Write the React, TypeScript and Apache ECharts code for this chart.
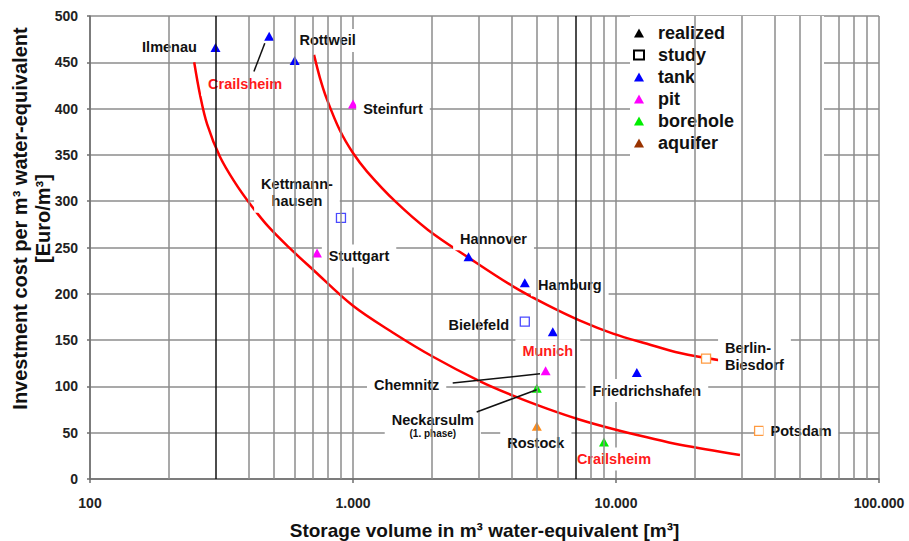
import React, { useEffect, useRef } from 'react';
import * as echarts from 'echarts';

const FONT = '"Liberation Sans", Arial, Helvetica, sans-serif';

// ---- axes ----
const xMin = 100;
const xMax = 100000;
const yMin = 0;
const yMax = 500;
const yInterval = 50;
const minorGridX = [200, 400, 500, 600, 700, 800, 900, 2000, 3000, 4000, 5000, 6000, 8000, 9000,
  20000, 30000, 40000, 50000, 60000, 70000, 80000, 90000];
const darkGridX = [300, 7000];

// ---- realized stores (triangles) ----
const tankNames = ['Ilmenau', 'Crailsheim', 'Rottweil', 'Hannover', 'Hamburg', 'Munich', 'Friedrichshafen'];
const tankVolume = [300, 480, 600, 2750, 4500, 5750, 12000];
const tankCost = [466, 478, 452, 240, 212, 159, 115];

const pitNames = ['Steinfurt', 'Stuttgart', 'Chemnitz'];
const pitVolume = [1000, 730, 5400];
const pitCost = [405, 244, 117];

const boreholeNames = ['Neckarsulm', 'Crailsheim'];
const boreholeVolume = [5000, 9000];
const boreholeCost = [98, 40];

const aquiferNames = ['Rostock'];
const aquiferVolume = [5000];
const aquiferCost = [57];

// ---- studies (hollow squares) ----
const studyNames = ['Kettmannhausen', 'Bielefeld', 'Berlin-Biesdorf', 'Potsdam'];
const studyVolume = [900, 4500, 22000, 35000];
const studyCost = [282, 170, 130, 52];
const studyKind = ['tank', 'tank', 'aquifer', 'aquifer'];

// ---- cost curves ----
const lowerCurveX = [249, 262, 279, 312, 356, 406, 475, 576, 705, 1000, 1420, 2015, 3014, 4058, 5466, 7297, 9741, 13120, 17512, 29600];
const lowerCurveY = [450, 415, 383, 348, 320, 297, 273, 249, 226, 187, 158, 132, 106, 90, 76, 64, 54, 45, 37, 26];
const upperCurveX = [711, 749, 796, 893, 1000, 1131, 1445, 1929, 2786, 4058, 5466, 7297, 9741, 13120, 17512, 25080];
const upperCurveY = [458, 433, 410, 376, 352, 332, 300, 269, 238, 208, 188, 171, 157, 146, 136, 128];

// ---- leader lines (label -> point), data coordinates ----
const leaderFromX = [420, 2394, 2953];
const leaderFromY = [440, 103.6, 72.3];
const leaderToX = [462, 5141, 4994];
const leaderToY = [470.5, 113.6, 96.4];

// ---- legend ----
const legendNames = ['realized', 'study', 'tank', 'pit', 'borehole', 'aquifer'];

const COLORS: Record<string, string> = {
  tank: '#0000ff',
  pit: '#ff00ff',
  borehole: '#00ee00',
  aquifer: '#993300',
  aquiferPoint: '#ff8c1a',
  studyTank: '#4a4aff',
  studyAquifer: '#ff9a40',
  red: '#ff1a1a',
};

// label placement (offset of label centre from point, px)
const labelLayout: Record<string, { off: [number, number]; red?: boolean; text?: string; align?: string }> = {
  'tank:Ilmenau': { off: [-46, 0] },
  'tank:Crailsheim': { off: [-24, 48], red: true },
  'tank:Rottweil': { off: [33, -20] },
  'tank:Hannover': { off: [25, -18] },
  'tank:Hamburg': { off: [45, 2] },
  'tank:Munich': { off: [-5, 19], red: true },
  'tank:Friedrichshafen': { off: [10, 18] },
  'pit:Steinfurt': { off: [40, 5] },
  'pit:Stuttgart': { off: [42, 3] },
  'pit:Chemnitz': { off: [-139, 14] },
  'borehole:Neckarsulm': { off: [-104, 38], text: '{a|Neckarsulm}\n{b|(1. phase)}' },
  'borehole:Crailsheim': { off: [10, 17], red: true },
  'aquifer:Rostock': { off: [-1, 17] },
  'study:Kettmannhausen': { off: [-44, -25], text: 'Kettmann-\nhausen' },
  'study:Bielefeld': { off: [-46, 3] },
  'study:Berlin-Biesdorf': { off: [12, -2], text: 'Berlin-\nBiesdorf', align: 'left' },
  'study:Potsdam': { off: [42, 0] },
};

function makeLabel(key: string, name: string) {
  const l = labelLayout[key];
  return {
    show: true,
    position: 'inside',
    offset: l.off,
    formatter: l.text || name,
    align: l.align || 'center',
    backgroundColor: '#ffffff',
    padding: [3, 7, 3, 7],
    color: l.red ? COLORS.red : '#111111',
    opacity: 1,
    fontFamily: FONT,
    fontSize: 14.5,
    fontWeight: 'bold',
    lineHeight: 17,
    rich: {
      a: { fontFamily: FONT, fontSize: 14.5, fontWeight: 'bold', color: '#111111', lineHeight: 15 },
      b: { fontFamily: FONT, fontSize: 10, fontWeight: 'bold', color: '#111111', lineHeight: 12 },
    },
  };
}

function fmtThousands(v: number) {
  return String(Math.round(v)).replace(/\B(?=(\d{3})+(?!\d))/g, '.');
}

function buildOption() {
  const pointSeries = (kind: string, names: string[], xs: number[], ys: number[], color: string, pointColor?: string) => ({
    type: 'scatter',
    name: kind,
    z: 3,
    symbol: 'triangle',
    symbolSize: [10, 9],
    itemStyle: { color, opacity: 1 },
    emphasis: { disabled: true },
    data: names.map((n, i) => ({
      name: n,
      value: [xs[i], ys[i]],
      itemStyle: pointColor ? { color: pointColor, opacity: 1 } : undefined,
      label: makeLabel(kind + ':' + n, n),
    })),
  });

  const curve = (name: string, xs: number[], ys: number[]) => ({
    type: 'line',
    name,
    z: 2,
    silent: true,
    smooth: 0.35,
    symbol: 'none',
    lineStyle: { color: '#ff0000', width: 2.5 },
    data: xs.map((x, i) => [x, ys[i]]),
  });

  const series: any[] = [
    {
      type: 'scatter',
      name: 'grid-minor',
      z: 1,
      silent: true,
      data: [],
      markLine: {
        silent: true,
        symbol: ['none', 'none'],
        label: { show: false },
        emphasis: { disabled: true },
        lineStyle: { color: '#8c8c8c', width: 1.5, type: 'solid' },
        data: minorGridX
          .map((v) => ({ xAxis: v }))
          .concat(darkGridX.map((v) => ({ xAxis: v, lineStyle: { color: '#111111', width: 1.5, type: 'solid' } } as any))),
      },
    },
    curve('curve-low', lowerCurveX, lowerCurveY),
    curve('curve-high', upperCurveX, upperCurveY),
    {
      type: 'scatter',
      name: 'realized',
      z: 3,
      symbol: 'triangle',
      itemStyle: { color: '#000000', opacity: 1 },
      data: [],
    },
    {
      type: 'scatter',
      name: 'study',
      z: 3,
      symbol: 'rect',
      symbolSize: 9,
      itemStyle: { color: '#ffffff', borderColor: '#000000', borderWidth: 1.3, opacity: 1 },
      emphasis: { disabled: true },
      data: studyNames.map((n, i) => ({
        name: n,
        value: [studyVolume[i], studyCost[i]],
        itemStyle: {
          color: '#ffffff',
          borderColor: studyKind[i] === 'tank' ? COLORS.studyTank : COLORS.studyAquifer,
          borderWidth: 1.3,
          opacity: 1,
        },
        label: makeLabel('study:' + n, n),
      })),
    },
    pointSeries('tank', tankNames, tankVolume, tankCost, COLORS.tank),
    pointSeries('pit', pitNames, pitVolume, pitCost, COLORS.pit),
    pointSeries('borehole', boreholeNames, boreholeVolume, boreholeCost, COLORS.borehole),
    pointSeries('aquifer', aquiferNames, aquiferVolume, aquiferCost, COLORS.aquifer, COLORS.aquiferPoint),
    {
      type: 'scatter',
      name: 'leaders',
      z: 4,
      silent: true,
      data: [],
      markLine: {
        silent: true,
        symbol: ['none', 'none'],
        label: { show: false },
        emphasis: { disabled: true },
        lineStyle: { color: '#111111', width: 1.5, type: 'solid' },
        data: leaderFromX.map((fx, i) => [
          { coord: [fx, leaderFromY[i]] },
          { coord: [leaderToX[i], leaderToY[i]] },
        ]),
      },
    },
  ];

  return {
    animation: false,
    backgroundColor: '#ffffff',
    textStyle: { fontFamily: FONT },
    grid: { left: 90, right: 30, top: 16, bottom: 62, containLabel: false, outerBoundsMode: 'none' },
    legend: {
      orient: 'vertical',
      left: 630,
      top: 16,
      selectedMode: false,
      backgroundColor: '#ffffff',
      padding: [8, 90, 11, 3],
      itemWidth: 10,
      itemHeight: 9,
      itemGap: 4,
      textStyle: { fontFamily: FONT, fontSize: 18, fontWeight: 'bold', color: '#111', lineHeight: 18, padding: [0, 0, 0, 9] },
      data: legendNames.map((n) => ({ name: n, icon: n === 'study' ? 'rect' : 'triangle' })),
    },
    xAxis: {
      type: 'log',
      logBase: 10,
      min: xMin,
      max: xMax,
      name: 'Storage volume in m³ water-equivalent [m³]',
      nameLocation: 'middle',
      nameGap: 42,
      nameMoveOverlap: false,
      nameTextStyle: { fontFamily: FONT, fontSize: 19, fontWeight: 'bold', color: '#111', lineHeight: 19 },
      axisLine: { show: true, lineStyle: { color: '#6e6e6e', width: 1.5 } },
      axisTick: { show: true, length: 4, lineStyle: { color: '#6e6e6e', width: 1.5 } },
      axisLabel: { fontFamily: FONT, fontSize: 14, fontWeight: 'bold', color: '#222', margin: 17, formatter: fmtThousands },
      splitLine: { show: true, lineStyle: { color: '#8c8c8c', width: 1.5 } },
    },
    yAxis: {
      type: 'value',
      min: yMin,
      max: yMax,
      interval: yInterval,
      name: 'Investment cost per m³ water-equivalent\n[Euro/m³]',
      nameLocation: 'middle',
      nameRotate: 90,
      nameGap: 36,
      nameMoveOverlap: false,
      nameTextStyle: { fontFamily: FONT, fontSize: 20, fontWeight: 'bold', color: '#111', lineHeight: 23, padding: [0, 0, 0, 58] },
      axisLine: { show: true, lineStyle: { color: '#6e6e6e', width: 1.5 } },
      axisTick: { show: true, length: 3, lineStyle: { color: '#6e6e6e', width: 1.5 } },
      axisLabel: { fontFamily: FONT, fontSize: 14, fontWeight: 'bold', color: '#222', margin: 12 },
      splitLine: { show: true, lineStyle: { color: '#8c8c8c', width: 1.5 } },
    },
    series,
  };
}

export default function App() {
  const ref = useRef<HTMLDivElement>(null);
  useEffect(() => {
    document.body.style.margin = '0';
    if (!ref.current) return;
    const chart = echarts.init(ref.current, undefined, { renderer: 'svg' });
    chart.setOption(buildOption() as any);
    return () => {
      chart.dispose();
    };
  }, []);
  return <div ref={ref} style={{ width: 909, height: 541 }} />;
}
